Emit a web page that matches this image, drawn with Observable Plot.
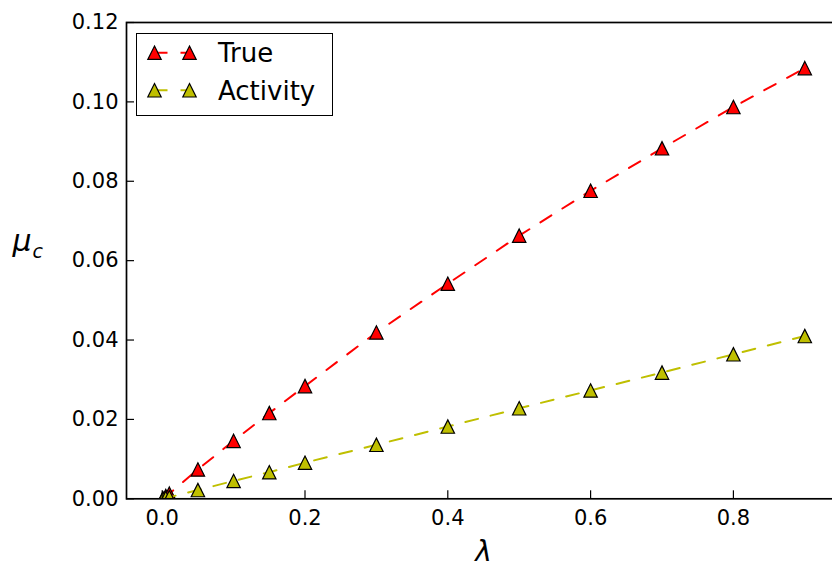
<!DOCTYPE html>
<html><head><meta charset="utf-8">
<script src="https://cdn.jsdelivr.net/npm/d3@7"></script>
<script src="https://cdn.jsdelivr.net/npm/@observablehq/plot@0.6"></script>
<style>
body{margin:0;background:#fff;}
#wrap{position:relative;width:832px;height:563px;overflow:hidden;background:#fff;font-family:"DejaVu Sans",sans-serif;}
#legend{position:absolute;left:136px;top:33px;width:197px;height:83px;box-sizing:border-box;border:1.7px solid #000;background:#fff;}
#legend svg{position:absolute;left:-1.7px;top:-1.7px;}
</style></head><body>
<div id="wrap"><div id="chart"></div><div id="legend"></div></div>
<script>
const lambda = [0.001, 0.005, 0.01, 0.05, 0.1, 0.15, 0.2, 0.3, 0.4, 0.5, 0.6, 0.7, 0.8, 0.9];
const trueMu = [0.0001, 0.0007, 0.0013, 0.0074, 0.0146, 0.0216, 0.0284, 0.0419, 0.0542, 0.0663, 0.0776, 0.0883, 0.0987, 0.1085];
const activityMu = [0.00004, 0.0002, 0.0004, 0.0022, 0.0045, 0.0067, 0.0091, 0.0136, 0.0182, 0.0228, 0.0273, 0.0318, 0.0364, 0.0410];
const seriesNames = ["True", "Activity"];
const seriesColors = ["#ff0000", "#bfbf00"];
const seriesValues = [trueMu, activityMu];
const xTicks = [0, 0.2, 0.4, 0.6, 0.8];
const yTicks = [0, 0.02, 0.04, 0.06, 0.08, 0.10, 0.12];

const tri = {draw(ctx, size) {
  const r = Math.sqrt(size / Math.PI);
  ctx.moveTo(0, -r); ctx.lineTo(r, r); ctx.lineTo(-r, r); ctx.closePath();
}};

const seriesMarks = seriesNames.flatMap((name, s) => {
  const rows = lambda.map((l, i) => ({lambda: l, mu: seriesValues[s][i], series: name}));
  return [
    Plot.line(rows, {x: "lambda", y: "mu", stroke: seriesColors[s], strokeWidth: 2, strokeDasharray: "13,13", clip: true}),
    Plot.dot(rows, {x: "lambda", y: "mu", symbol: tri, r: 6.7, fill: seriesColors[s], stroke: "black", strokeWidth: 1.2, clip: true})
  ];
});

const chart = Plot.plot({
  width: 832, height: 563,
  marginLeft: 126, marginRight: -8, marginTop: 22, marginBottom: 64.7,
  x: {domain: [-0.05, 0.95]},
  y: {domain: [0, 0.12]},
  style: {fontFamily: "DejaVu Sans", color: "black", background: "white"},
  marks: [
    ...seriesMarks,
    Plot.axisX({ticks: xTicks, tickSize: 0, tickPadding: 11, tickFormat: d3.format(".1f"), fontSize: 21, label: null}),
    Plot.axisX({ticks: xTicks, tickSize: -8, tickFormat: () => "", label: null, strokeWidth: 1.2}),
    Plot.axisY({ticks: yTicks, tickSize: 0, tickPadding: 8, tickFormat: d3.format(".2f"), fontSize: 21, label: null}),
    Plot.axisY({ticks: yTicks, tickSize: -8, tickFormat: () => "", label: null, strokeWidth: 1.2}),
    Plot.frame({stroke: "black", strokeWidth: 1.7}),
    Plot.text(["λ"], {frameAnchor: "bottom", dy: 62.5, lineAnchor: "bottom", fontSize: 28, fontStyle: "italic", fill: "black"}),
    Plot.text(["μ"], {frameAnchor: "left", dx: -114, dy: -10, textAnchor: "start", lineAnchor: "bottom", fontSize: 30, fontStyle: "italic", fill: "black"}),
    Plot.text(["c"], {frameAnchor: "left", dx: -94, dy: -3, textAnchor: "start", lineAnchor: "bottom", fontSize: 19, fontStyle: "italic", fill: "black"})
  ]
});
document.getElementById("chart").appendChild(chart);

// legend
const lg = d3.select("#legend").append("svg").attr("width", 197).attr("height", 83);
seriesNames.forEach((name, s) => {
  const cy = 20.7 + s * 37.6;
  const g = lg.append("g");
  g.append("line").attr("x1", 19.5).attr("x2", 54.5).attr("y1", cy).attr("y2", cy)
    .attr("stroke", seriesColors[s]).attr("stroke-width", 2).attr("stroke-dasharray", "13,13");
  [19.5, 54.5].forEach(cx => {
    g.append("path").attr("d", "M0,-6.7L6.7,6.7L-6.7,6.7Z").attr("transform", `translate(${cx},${cy})`)
      .attr("fill", seriesColors[s]).attr("stroke", "black").attr("stroke-width", 1.2);
  });
  g.append("text").attr("x", 83).attr("y", cy + 9.3).attr("font-size", 26)
    .attr("font-family", "DejaVu Sans").attr("fill", "black").text(name);
});
</script>
</body></html>
